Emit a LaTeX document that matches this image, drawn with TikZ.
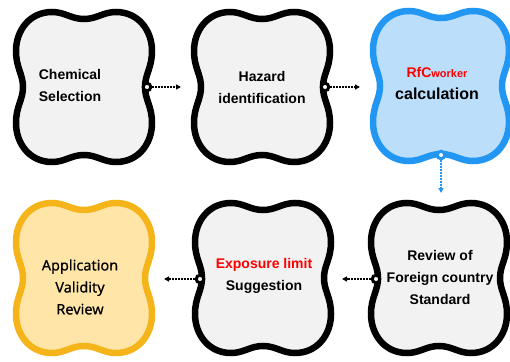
\documentclass[tikz,border=0pt]{standalone}
\usepackage{fontspec}
\setmainfont{Liberation Sans}
\newfontfamily\appfont[FakeBold=0.6]{Noto Sans}
\usetikzlibrary{arrows.meta}
\definecolor{boxgray}{HTML}{F2F2F2}
\definecolor{bluestroke}{HTML}{2196F3}
\definecolor{bluefill}{HTML}{BBDEFB}
\definecolor{yelstroke}{HTML}{F4B41A}
\definecolor{yelfill}{HTML}{FFE6A8}
\definecolor{redtxt}{HTML}{FF0000}
\begin{document}
\begin{tikzpicture}[x=1pt,y=-1pt,
  lobe/.pic={\path[pic actions] (0,-68) .. controls (13,-68) and (19,-75) .. (32,-75)
     .. controls (54,-75) and (68,-57) .. (68,-36)
     .. controls (68,-19) and (61,-13) .. (61,0)
     .. controls (61,13) and (68,19) .. (68,36)
     .. controls (68,57) and (54,75) .. (32,75)
     .. controls (19,75) and (13,68) .. (0,68)
     .. controls (-13,68) and (-19,75) .. (-32,75)
     .. controls (-54,75) and (-68,57) .. (-68,36)
     .. controls (-68,19) and (-61,13) .. (-61,0)
     .. controls (-61,-13) and (-68,-19) .. (-68,-36)
     .. controls (-68,-57) and (-54,-75) .. (-32,-75)
     .. controls (-19,-75) and (-13,-68) .. (0,-68) -- cycle;},
  blackbox/.style={draw=black,fill=boxgray,line width=6.5pt},
  bluebox/.style={draw=bluestroke,fill=bluefill,line width=6.5pt},
  yelbox/.style={draw=yelstroke,fill=yelfill,line width=6.5pt},
  txt/.style={align=center,font=\bfseries\fontsize{14}{22}\selectfont,inner sep=0pt},
  port/.style={circle,draw=black,fill=white,line width=3pt,minimum size=7.5pt,inner sep=0pt},
  conn/.style={line width=1.5pt,dash pattern=on 1.5pt off 1.5pt,-{Triangle[length=5pt,width=5pt]}}
]
\useasboundingbox (0,0) rectangle (510,361);
\clip (0,0) rectangle (510,361);
% boxes
\pic (b1) [blackbox] at (84,87) {lobe};
\pic (b2) [blackbox] at (262,87) {lobe};
\pic (b3) [bluebox] at (441,86) {lobe};
\pic (b4) [yelbox] at (84,278) {lobe};
\pic (b5) [blackbox] at (263,278) {lobe};
\pic (b6) [blackbox] at (439,278) {lobe};
% texts
\node[txt] (t1) at (70,85) {Chemical\\Selection};
\node[txt] (t2) at (262,87) {Hazard\\identification};
\node[txt] (t3) at (437,84) {{\color{redtxt}RfC{\fontsize{11}{13}\selectfont worker}}\\{\fontsize{16}{22}\selectfont calculation}};
\node[txt,font=\appfont\fontsize{14.5}{22}\selectfont] (t4) at (80,287) {Application\\Validity\\Review};
\node[txt] (t5) at (264,276) {{\color{redtxt}Exposure limit}\\Suggestion};
\node[txt] (t6) at (440,277) {Review of\\Foreign country\\Standard};
% ports
\node[port] (p1) at (147,87) {};
\node[port] (p2) at (325,87) {};
\node[port,draw=bluestroke] (p3) at (441,155) {};
\node[port] (p6) at (376,279) {};
\node[port] (p5) at (200,279) {};
% connector ends
\coordinate (e1) at (181,87);
\coordinate (e2) at (360,87);
\coordinate (e3) at (441,193);
\coordinate (e6) at (342,279);
\coordinate (e5) at (164,279);
\draw[conn] (p1) -- (e1);
\draw[conn] (p2) -- (e2);
\draw[conn,draw=bluestroke,fill=bluestroke] (p3) -- (e3);
\draw[conn] (p6) -- (e6);
\draw[conn] (p5) -- (e5);
\end{tikzpicture}
\end{document}
